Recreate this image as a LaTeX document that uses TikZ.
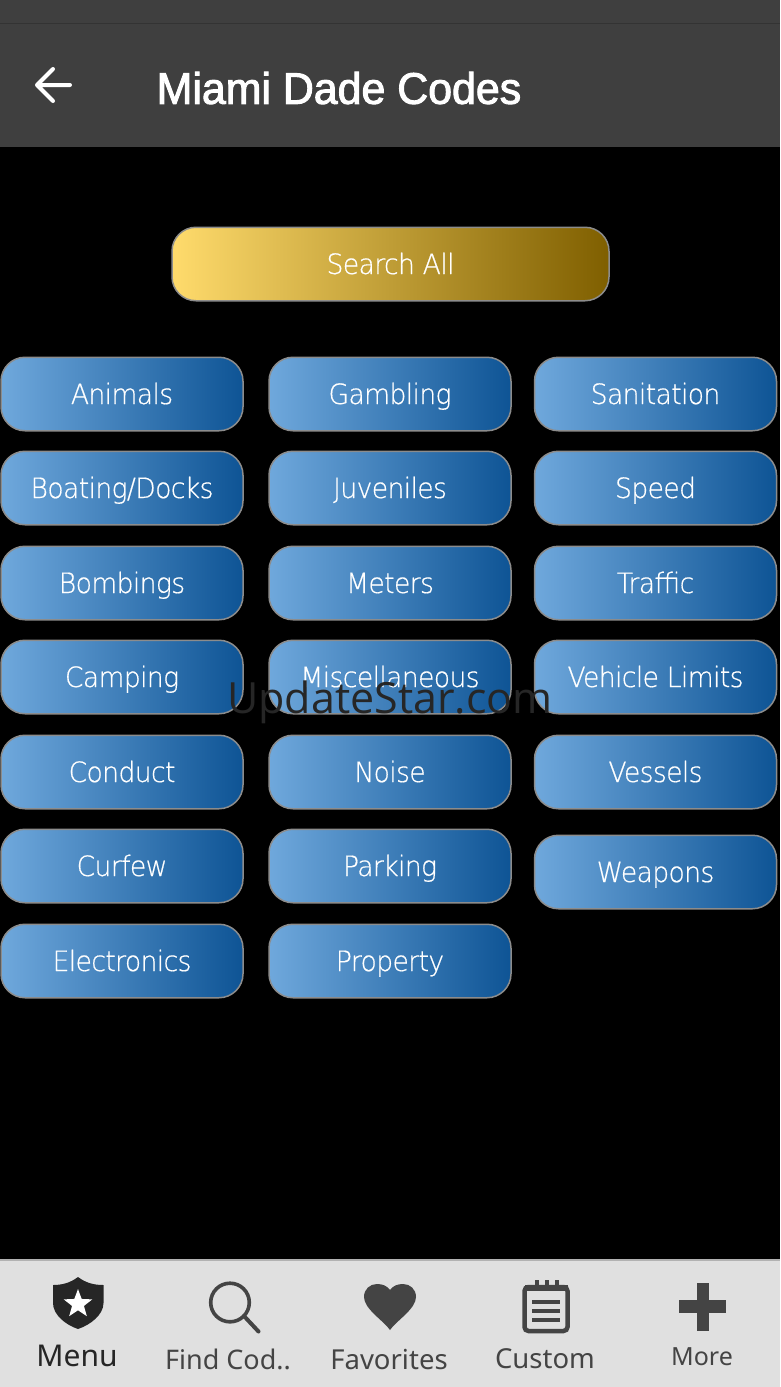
\documentclass[tikz,border=0pt]{standalone}
\usepackage{fontspec}
\usetikzlibrary{shapes.geometric}
\setmainfont{Open Sans}
\newfontfamily\btnfont{DejaVu Sans ExtraLight}[LetterSpace=-2.2,FakeBold=0.5,FakeStretch=0.95]
\newfontfamily\titlefont{Liberation Sans}[FakeBold=2.2,FakeStretch=0.97]
\newfontfamily\tabfont{Noto Sans}
\definecolor{barc}{HTML}{3F3F3F}
\definecolor{tabc}{HTML}{E0E0E0}
\definecolor{iconc}{HTML}{444444}
\definecolor{blueL}{HTML}{6FA8DC}
\definecolor{blueR}{HTML}{0E5495}
\definecolor{goldL}{HTML}{FFDB6C}
\definecolor{goldR}{HTML}{7F5F00}
\tikzset{
  x=1pt,y=-1pt,
  pill/.style={rectangle,rounded corners=24pt,draw=black!45,line width=1.5pt,minimum width=242pt,minimum height=73.5pt,inner sep=0pt,text height=20pt,text depth=0pt,left color=blueL,right color=blueR,text=white,font=\btnfont\fontsize{28}{30}\selectfont},
  tablabel/.style={text=iconc,font=\tabfont\fontsize{27.5}{32}\selectfont,inner sep=0pt}
}
\begin{document}
\begin{tikzpicture}
\useasboundingbox (0,0) rectangle (780,1387);
\fill[black] (0,0) rectangle (780,1387);
\fill[barc] (0,0) rectangle (780,147);
\draw[black!80,line width=0.8pt] (0,23) -- (780,23);
\coordinate (backtip) at (37,85);
\coordinate (backend) at (70,85);
\draw[white,line width=4pt,line cap=round,line join=round] (backend) -- (backtip) (53,69) -- (backtip) -- (53,101);
\node[text=white,inner sep=0pt,font=\titlefont\fontsize{44.2}{46}\selectfont] (title) at (339,88) {Miami Dade Codes};

\node[pill,minimum width=437pt,left color=goldL,right color=goldR] (search) at (390.5,264) {Search All};

\node[pill] (animals) at (122,394) {Animals};
\node[pill] (boating) at (122,488) {Boating/Docks};
\node[pill] (bombings) at (122,583) {Bombings};
\node[pill] (camping) at (122,677) {Camping};
\node[pill] (conduct) at (122,772) {Conduct};
\node[pill] (curfew) at (122,866) {Curfew};
\node[pill] (electronics) at (122,961) {Electronics};

\node[pill] (gambling) at (390,394) {Gambling};
\node[pill] (juveniles) at (390,488) {Juveniles};
\node[pill] (meters) at (390,583) {Meters};
\node[pill] (misc) at (390,677) {Miscellaneous};
\node[pill] (noise) at (390,772) {Noise};
\node[pill] (parking) at (390,866) {Parking};
\node[pill] (property) at (390,961) {Property};

\node[pill] (sanitation) at (655.5,394) {Sanitation};
\node[pill] (speed) at (655.5,488) {Speed};
\node[pill] (traffic) at (655.5,583) {Traffic};
\node[pill] (vehicle) at (655.5,677) {Vehicle Limits};
\node[pill] (vessels) at (655.5,772) {Vessels};
\node[pill] (weapons) at (655.5,872) {Weapons};

\node[text=black!85,inner sep=0pt,font=\fontsize{43}{48}\selectfont] (mark) at (390,702) {UpdateStar.com};

% tab bar
\fill[tabc] (0,1259) rectangle (780,1387);
\draw[black!30,line width=1.5pt] (0,1260) -- (780,1260);

% shield
\fill[black!85] (78,1277) .. controls (70,1283) and (62,1285) .. (53,1285) -- (53,1303) .. controls (53,1315) and (66,1325) .. (78,1329) .. controls (90,1325) and (103.5,1315) .. (103.5,1303) -- (103.5,1285) .. controls (94,1285) and (86,1283) .. cycle;
\node[star,star points=5,star point ratio=2.4,fill=white,minimum size=30pt,inner sep=0pt] (star) at (78,1304) {};
\node[text=black!85,inner sep=0pt,font=\tabfont\fontsize{30}{36}\selectfont] (menu) at (77,1356) {Menu};

% magnifier
\draw[iconc,line width=3.6pt] (230,1302.5) circle (19.3);
\draw[iconc,line width=4pt,line cap=round] (244,1316) -- (258.5,1331.5);
\node[tablabel,font=\tabfont\fontsize{27}{32}\selectfont] (find) at (228,1359) {Find Cod..};

% heart
\fill[iconc] (390,1330) .. controls (384,1321) and (364,1309) .. (364,1297) .. controls (364,1289) and (370,1284) .. (377,1284) .. controls (383,1284) and (387,1286) .. (390,1290) .. controls (393,1286) and (397,1284) .. (403,1284) .. controls (410,1284) and (416,1289) .. (416,1297) .. controls (416,1309) and (396,1321) .. cycle;
\node[tablabel] (fav) at (389,1359) {Favorites};

% notepad
\draw[iconc,line width=4.5pt,rounded corners=4pt] (524.5,1287) rectangle (567.5,1331);
\fill[iconc] (524.5,1285) rectangle (567.5,1291);
\foreach \nx in {537,547,557}{\draw[iconc,line width=4pt] (\nx,1280) -- (\nx,1290);}
\foreach \ny in {1302,1311,1320}{\draw[iconc,line width=3.5pt] (532,\ny) -- (560,\ny);}
\node[tablabel] (custom) at (545,1359) {Custom};

% plus
\fill[iconc] (696.5,1283) rectangle (708.5,1331);
\fill[iconc] (679,1300) rectangle (725.5,1313);
\node[tablabel,font=\tabfont\fontsize{25}{30}\selectfont] (more) at (702,1357) {More};
\end{tikzpicture}
\end{document}
